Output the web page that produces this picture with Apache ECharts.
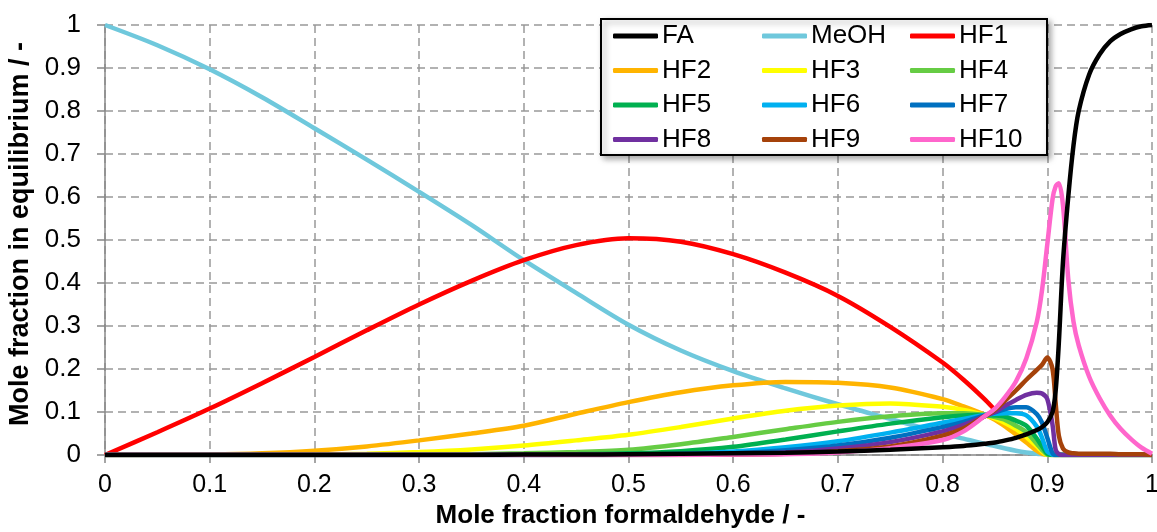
<!DOCTYPE html>
<html>
<head>
<meta charset="utf-8">
<script src="https://cdn.jsdelivr.net/npm/echarts@6/dist/echarts.min.js"></script>
<style>
  html, body { margin: 0; padding: 0; background: #fff; }
  #chart { width: 1157px; height: 532px; }
</style>
</head>
<body>
<div id="chart"></div>
<script>
// x values (mole fraction formaldehyde), denser near the peaks
var xs = [0, 0.05, 0.1, 0.15, 0.2, 0.25, 0.3, 0.35, 0.4, 0.45, 0.5, 0.55, 0.6, 0.65, 0.7, 0.75, 0.8,
    0.82, 0.84, 0.85, 0.86, 0.87, 0.88, 0.89, 0.895, 0.9,
    0.905, 0.908, 0.911, 0.915, 0.92, 0.925, 0.93,
    0.94, 0.95, 0.96, 0.97, 0.98, 0.99, 1.0];

var FA = [0, 0, 0, 0, 0, 0, 0, 0, 0.001, 0.001, 0.002, 0.003, 0.004, 0.005, 0.008, 0.012, 0.018,
    0.021, 0.026, 0.029, 0.034, 0.04, 0.048, 0.058, 0.065, 0.076,
    0.1, 0.15, 0.26, 0.45, 0.6, 0.72, 0.8,
    0.885, 0.932, 0.962, 0.979, 0.99, 0.997, 1.0];
var MeOH = [1.0, 0.953, 0.897, 0.832, 0.76, 0.687, 0.612, 0.535, 0.453, 0.377, 0.303, 0.243, 0.195, 0.155, 0.118, 0.084, 0.05,
    0.038, 0.026, 0.021, 0.015, 0.01, 0.006, 0.003, 0.002, 0.001,
    0, 0, 0, 0, 0, 0, 0,
    0, 0, 0, 0, 0, 0, 0];
var HF1 = [0, 0.053, 0.108, 0.167, 0.228, 0.29, 0.35, 0.405, 0.453, 0.488, 0.504, 0.496, 0.467, 0.424, 0.37, 0.298, 0.215,
    0.175, 0.13, 0.105, 0.08, 0.058, 0.038, 0.02, 0.012, 0.005,
    0.001, 0, 0, 0, 0, 0, 0,
    0, 0, 0, 0, 0, 0, 0];
var HF2 = [0, 0.0003, 0.001, 0.004, 0.01, 0.02, 0.034, 0.05, 0.068, 0.096, 0.123, 0.146, 0.162, 0.17, 0.168, 0.157, 0.13,
    0.113, 0.094, 0.082, 0.066, 0.048, 0.029, 0.01, 0.003, 0,
    0, 0, 0, 0, 0, 0, 0,
    0, 0, 0, 0, 0, 0, 0];
var HF3 = [0, 0, 0, 0.0002, 0.001, 0.003, 0.007, 0.013, 0.022, 0.034, 0.047, 0.065, 0.085, 0.103, 0.115, 0.12, 0.112,
    0.105, 0.093, 0.085, 0.074, 0.06, 0.041, 0.02, 0.008, 0,
    0, 0, 0, 0, 0, 0, 0,
    0, 0, 0, 0, 0, 0, 0];
var HF4 = [0, 0, 0, 0, 0, 0.0003, 0.001, 0.002, 0.004, 0.007, 0.012, 0.025, 0.042, 0.06, 0.077, 0.09, 0.097,
    0.097, 0.093, 0.088, 0.081, 0.068, 0.053, 0.026, 0.012, 0.001,
    0, 0, 0, 0, 0, 0, 0,
    0, 0, 0, 0, 0, 0, 0];
var HF5 = [0, 0, 0, 0, 0, 0, 0, 0.0005, 0.001, 0.002, 0.004, 0.009, 0.019, 0.036, 0.055, 0.073, 0.088,
    0.092, 0.093, 0.092, 0.089, 0.08, 0.068, 0.038, 0.02, 0.003,
    0, 0, 0, 0, 0, 0, 0,
    0, 0, 0, 0, 0, 0, 0];
var HF6 = [0, 0, 0, 0, 0, 0, 0, 0, 0, 0.0005, 0.001, 0.003, 0.008, 0.018, 0.032, 0.052, 0.075,
    0.084, 0.093, 0.096, 0.097, 0.097, 0.092, 0.066, 0.04, 0.008,
    0.001, 0, 0, 0, 0, 0, 0,
    0, 0, 0, 0, 0, 0, 0];
var HF7 = [0, 0, 0, 0, 0, 0, 0, 0, 0, 0, 0.0005, 0.001, 0.004, 0.011, 0.022, 0.04, 0.065,
    0.077, 0.092, 0.099, 0.107, 0.111, 0.111, 0.095, 0.075, 0.04,
    0.004, 0, 0, 0, 0, 0, 0,
    0, 0, 0, 0, 0, 0, 0];
var HF8 = [0, 0, 0, 0, 0, 0, 0, 0, 0, 0, 0, 0.0005, 0.002, 0.006, 0.015, 0.03, 0.055,
    0.07, 0.09, 0.1, 0.115, 0.128, 0.14, 0.145, 0.143, 0.13,
    0.07, 0.012, 0.002, 0, 0, 0, 0,
    0, 0, 0, 0, 0, 0, 0];
var HF9 = [0, 0, 0, 0, 0, 0, 0, 0, 0, 0, 0, 0, 0.001, 0.003, 0.009, 0.02, 0.045,
    0.062, 0.09, 0.105, 0.127, 0.15, 0.175, 0.198, 0.21, 0.227,
    0.2, 0.12, 0.045, 0.015, 0.006, 0.004, 0.003,
    0.003, 0.003, 0.003, 0.002, 0.002, 0.002, 0];
var HF10 = [0, 0, 0, 0, 0, 0, 0, 0, 0, 0, 0, 0, 0.001, 0.002, 0.006, 0.016, 0.035,
    0.055, 0.09, 0.108, 0.136, 0.171, 0.225, 0.31, 0.384, 0.49,
    0.595, 0.625, 0.632, 0.58, 0.41, 0.31, 0.255,
    0.182, 0.132, 0.092, 0.061, 0.037, 0.017, 0.003];

var names = ['FA', 'MeOH', 'HF1', 'HF2', 'HF3', 'HF4', 'HF5', 'HF6', 'HF7', 'HF8', 'HF9', 'HF10'];
var values = [FA, MeOH, HF1, HF2, HF3, HF4, HF5, HF6, HF7, HF8, HF9, HF10];
var colors = ['#000000', '#6FC8DC', '#FF0000', '#FFB400', '#FFFF00', '#66CC44',
    '#00B050', '#00B0F0', '#0070C0', '#7030A0', '#A5420A', '#FF66CC'];

var font = '"Liberation Sans", Arial, sans-serif';

var series = names.map(function (n, k) {
    return {
        name: n,
        type: 'line',
        smooth: 0.3,
        symbol: 'none',
        z: n === 'FA' ? 4 : 2,
        lineStyle: {width: 4.5, color: colors[k]},
        itemStyle: {color: colors[k]},
        data: xs.map(function (x, i) { return [x, values[k][i]]; })
    };
});

function legendCol(left, data) {
    return {
        orient: 'vertical',
        left: left,
        top: 23,
        z: 6,
        padding: 0,
        itemWidth: 45,
        itemHeight: 5,
        itemGap: 8.5,
        icon: 'roundRect',
        selectedMode: false,
        textStyle: {fontFamily: font, fontSize: 26, color: '#000', lineHeight: 26, padding: [0, 0, 0, -1]},
        data: data
    };
}

var myChart = echarts.init(document.getElementById('chart'));
myChart.setOption({
    animation: false,
    color: colors,
    grid: {left: 105, right: 5, top: 25, bottom: 77, outerBoundsMode: 'none', containLabel: false},
    legend: [
        legendCol(613, ['FA', 'HF2', 'HF5', 'HF8']),
        legendCol(762, ['MeOH', 'HF3', 'HF6', 'HF9']),
        legendCol(910, ['HF1', 'HF4', 'HF7', 'HF10'])
    ],
    graphic: [{
        type: 'rect',
        z: 5,
        shape: {x: 601, y: 19, width: 446, height: 136},
        style: {
            fill: '#fff', stroke: '#000', lineWidth: 2,
            shadowBlur: 6, shadowOffsetX: 3, shadowOffsetY: 3, shadowColor: 'rgba(0,0,0,0.35)'
        }
    }],
    xAxis: {
        type: 'value',
        min: 0,
        max: 1,
        interval: 0.1,
        name: 'Mole fraction formaldehyde / -',
        nameLocation: 'middle',
        nameGap: 46,
        nameTextStyle: {fontFamily: font, fontSize: 26, fontWeight: 'bold', color: '#000', padding: [0, 16, 0, 0]},
        axisLine: {lineStyle: {color: '#888', width: 1.5}},
        axisTick: {show: true, length: 8, lineStyle: {color: '#888', width: 1.5}},
        axisLabel: {fontFamily: font, fontSize: 25, color: '#000', margin: 18},
        splitLine: {show: true, lineStyle: {color: '#999', width: 1.5, type: [8, 5]}}
    },
    yAxis: {
        type: 'value',
        min: 0,
        max: 1,
        interval: 0.1,
        name: 'Mole fraction in equilibrium / -',
        nameLocation: 'middle',
        nameGap: 65,
        nameTextStyle: {fontFamily: font, fontSize: 27, fontWeight: 'bold', color: '#000', padding: [0, 0, 0, 12]},
        axisLine: {show: true, lineStyle: {color: '#888', width: 1.5}},
        axisTick: {show: true, length: 8, lineStyle: {color: '#888', width: 1.5}},
        axisLabel: {fontFamily: font, fontSize: 26, color: '#000', margin: 24},
        splitLine: {show: true, lineStyle: {color: '#999', width: 1.5, type: [8, 5]}}
    },
    series: series
});
</script>
</body>
</html>
